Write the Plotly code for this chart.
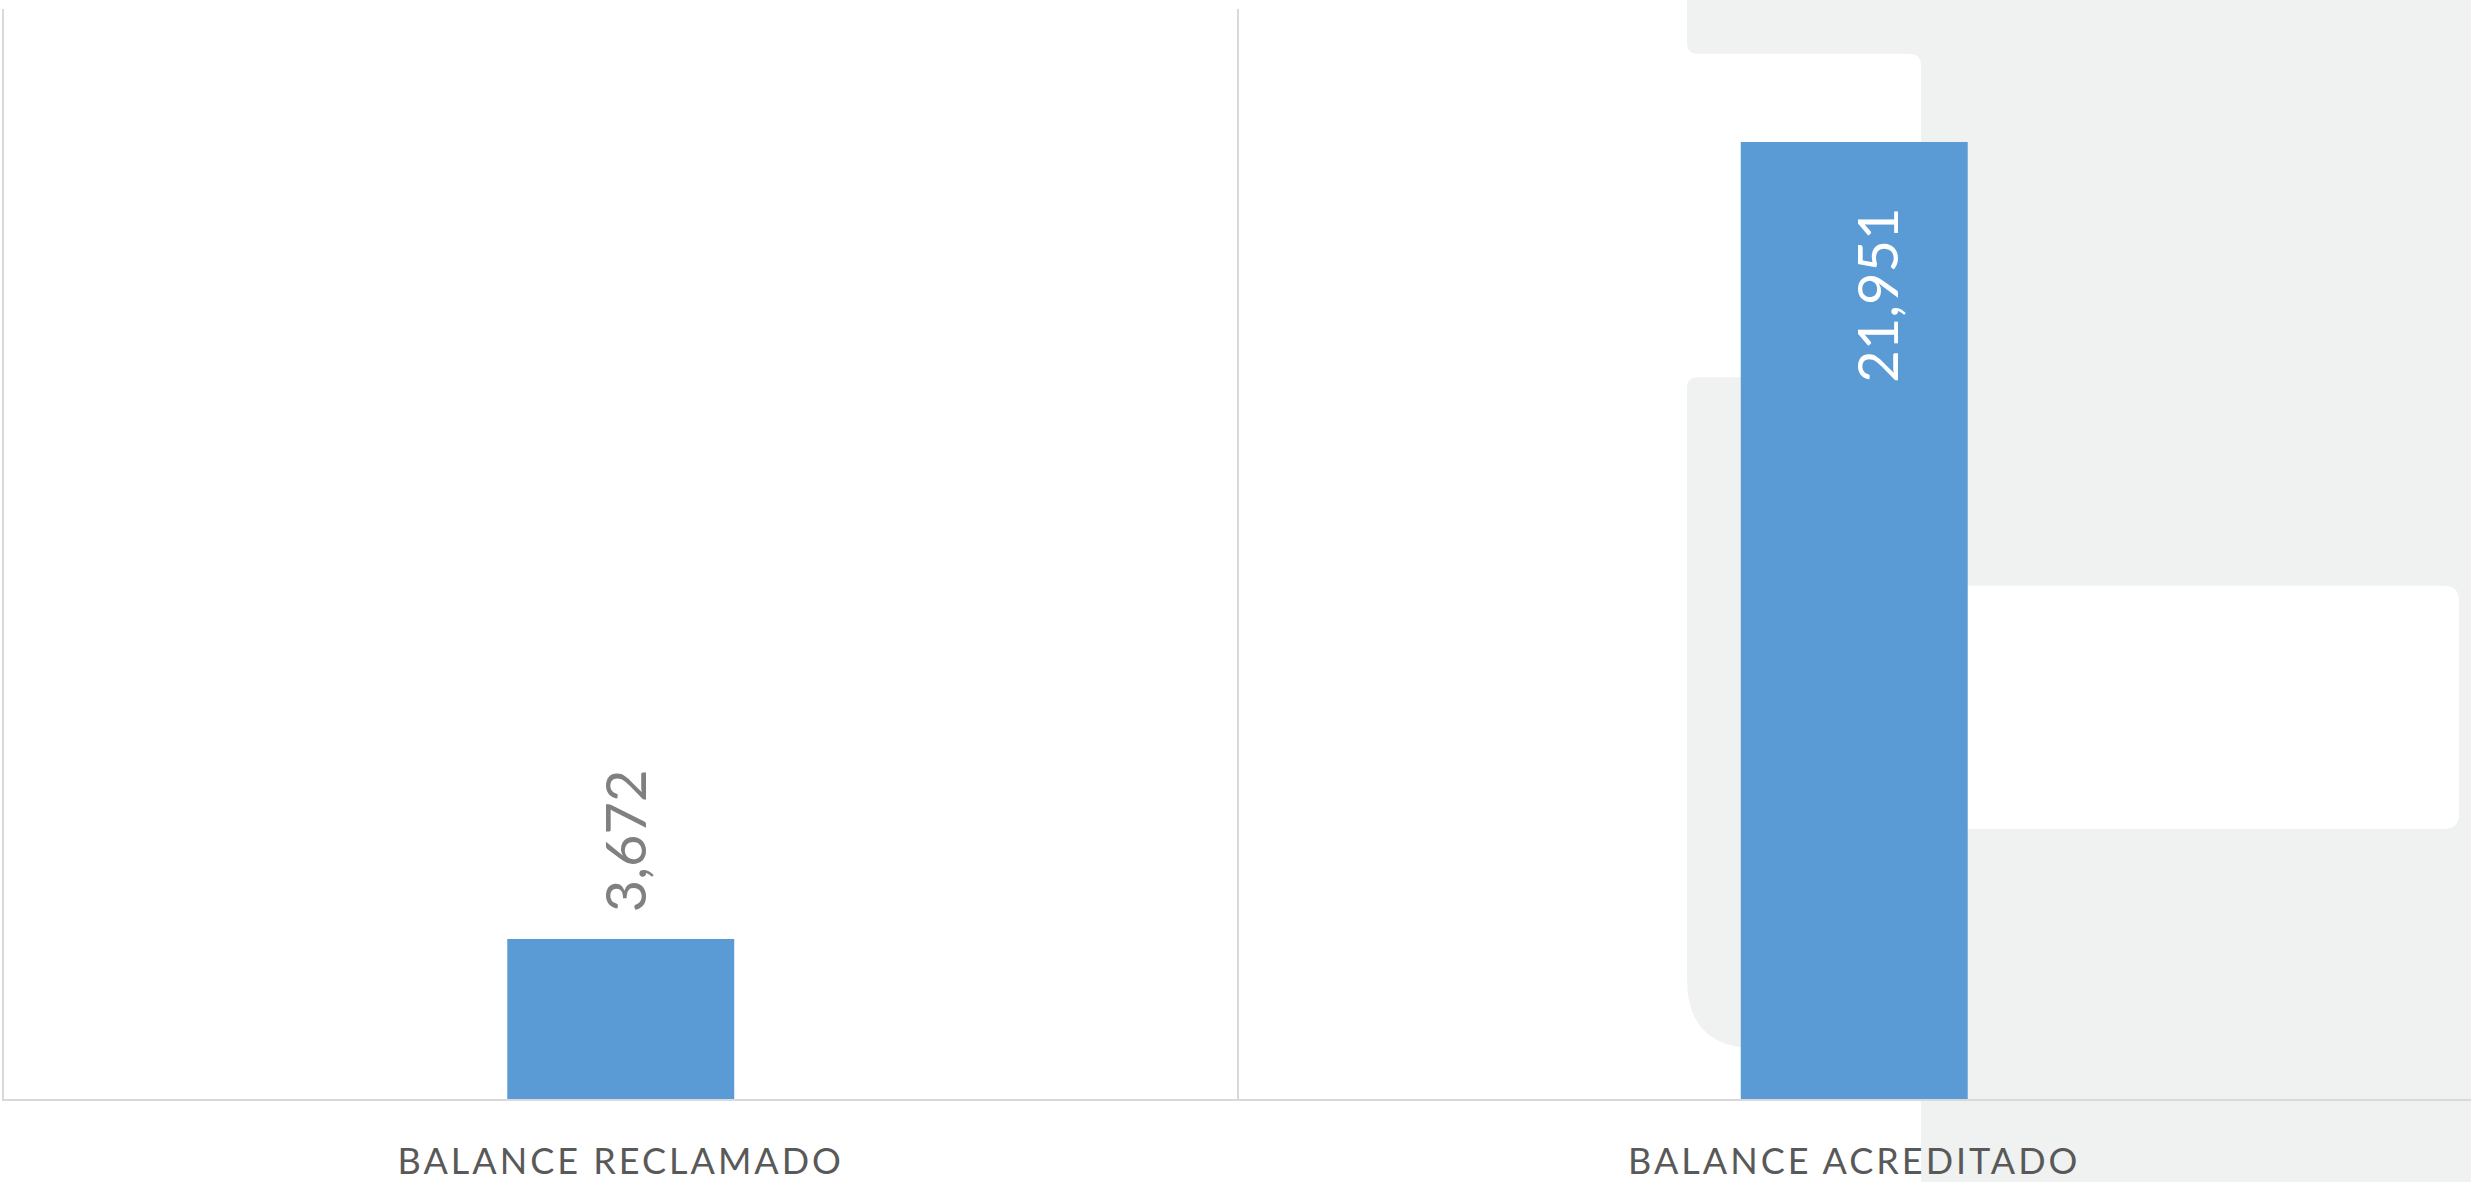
import plotly.graph_objects as go

# ---- data ----
categories = ["BALANCE RECLAMADO", "BALANCE ACREDITADO"]
values = [3672, 21951]
value_labels = ["3,672", "21,951"]

# ---- layout constants (pixels) ----
W, H = 2471, 1182
ML, MR, MT, MB = 4, 0, 9, 75
PW, PH = W - ML - MR, H - MT - MB

def px(x):
    return (x - ML) / PW

def py(y):
    return (H - MB - y) / PH

def path(cmds):
    out = []
    for c in cmds:
        op = c[0]
        nums = c[1:]
        pts = []
        for i in range(0, len(nums), 2):
            pts.append(f"{px(nums[i]):.5f},{py(nums[i+1]):.5f}")
        out.append(op + " " + " ".join(pts))
    return " ".join(out) + " Z"

GRAY = "#F0F1F1"
BLUE = "#5B9BD5"

gray_path = path([
    ("M", 2490, -10),
    ("L", 1687, -10),
    ("L", 1687, 43),
    ("Q", 1687, 54, 1698, 54),
    ("L", 1909, 54),
    ("Q", 1921, 54, 1921, 66),
    ("L", 1921, 380),
    ("L", 1698, 380),
    ("Q", 1687, 380, 1687, 391),
    ("L", 1687, 986),
    ("Q", 1687, 1056, 1757, 1056),
    ("L", 1921, 1056),
    ("L", 1921, 1200),
    ("L", 2490, 1200),
])
white_path = path([
    ("M", 1915, 590),
    ("L", 2444, 590),
    ("Q", 2459, 590, 2459, 605),
    ("L", 2459, 820),
    ("Q", 2459, 835, 2444, 835),
    ("L", 1915, 835),
])

fig = go.Figure()
fig.add_trace(go.Bar(
    x=categories, y=values,
    marker=dict(color=BLUE, line=dict(width=0)),
    width=0.184,
    hoverinfo="skip",
))

FONT = "Lato"
fig.add_annotation(
    x=categories[0], y=values[0], text=value_labels[0],
    textangle=-90, showarrow=False, xanchor="center", yanchor="bottom",
    yshift=25, xshift=4,
    font=dict(family=FONT, size=56, color="#808080"),
)
fig.add_annotation(
    x=categories[1], y=values[1], text=value_labels[1],
    textangle=-90, showarrow=False, xanchor="center", yanchor="top",
    yshift=-64, xshift=22,
    font=dict(family=FONT, size=56, color="#FFFFFF"),
)

fig.update_layout(
    width=W, height=H,
    margin=dict(l=ML, r=MR, t=MT, b=MB),
    paper_bgcolor="#FFFFFF",
    plot_bgcolor="rgba(0,0,0,0)",
    showlegend=False,
    shapes=[
        dict(type="path", xref="paper", yref="paper", path=gray_path,
             fillcolor=GRAY, line=dict(width=0), layer="below"),
        dict(type="path", xref="paper", yref="paper", path=white_path,
             fillcolor="#FFFFFF", line=dict(width=0), layer="below"),
    ],
    xaxis=dict(
        type="category",
        showline=True, linecolor="#D9D9D9", linewidth=2,
        showgrid=True, gridcolor="#D9D9D9", gridwidth=1.5,
        tickson="boundaries", ticks="",
        tickfont=dict(family=FONT, size=36, color="#595959"),
        ticklabelstandoff=30,
        zeroline=False,
    ),
    yaxis=dict(
        range=[0, 25000],
        showline=True, linecolor="#D9D9D9", linewidth=1.5,
        showgrid=False, zeroline=False,
        showticklabels=False, ticks="",
    ),
)

post = (
    "document.body.style.margin='0';"
    "document.body.style.overflow='hidden';"
    "document.querySelectorAll('.xtick text').forEach(function(t){"
    "t.style.letterSpacing='3px';});"
)
fig.write_html("out.html", config={"displayModeBar": False}, post_script=post)
